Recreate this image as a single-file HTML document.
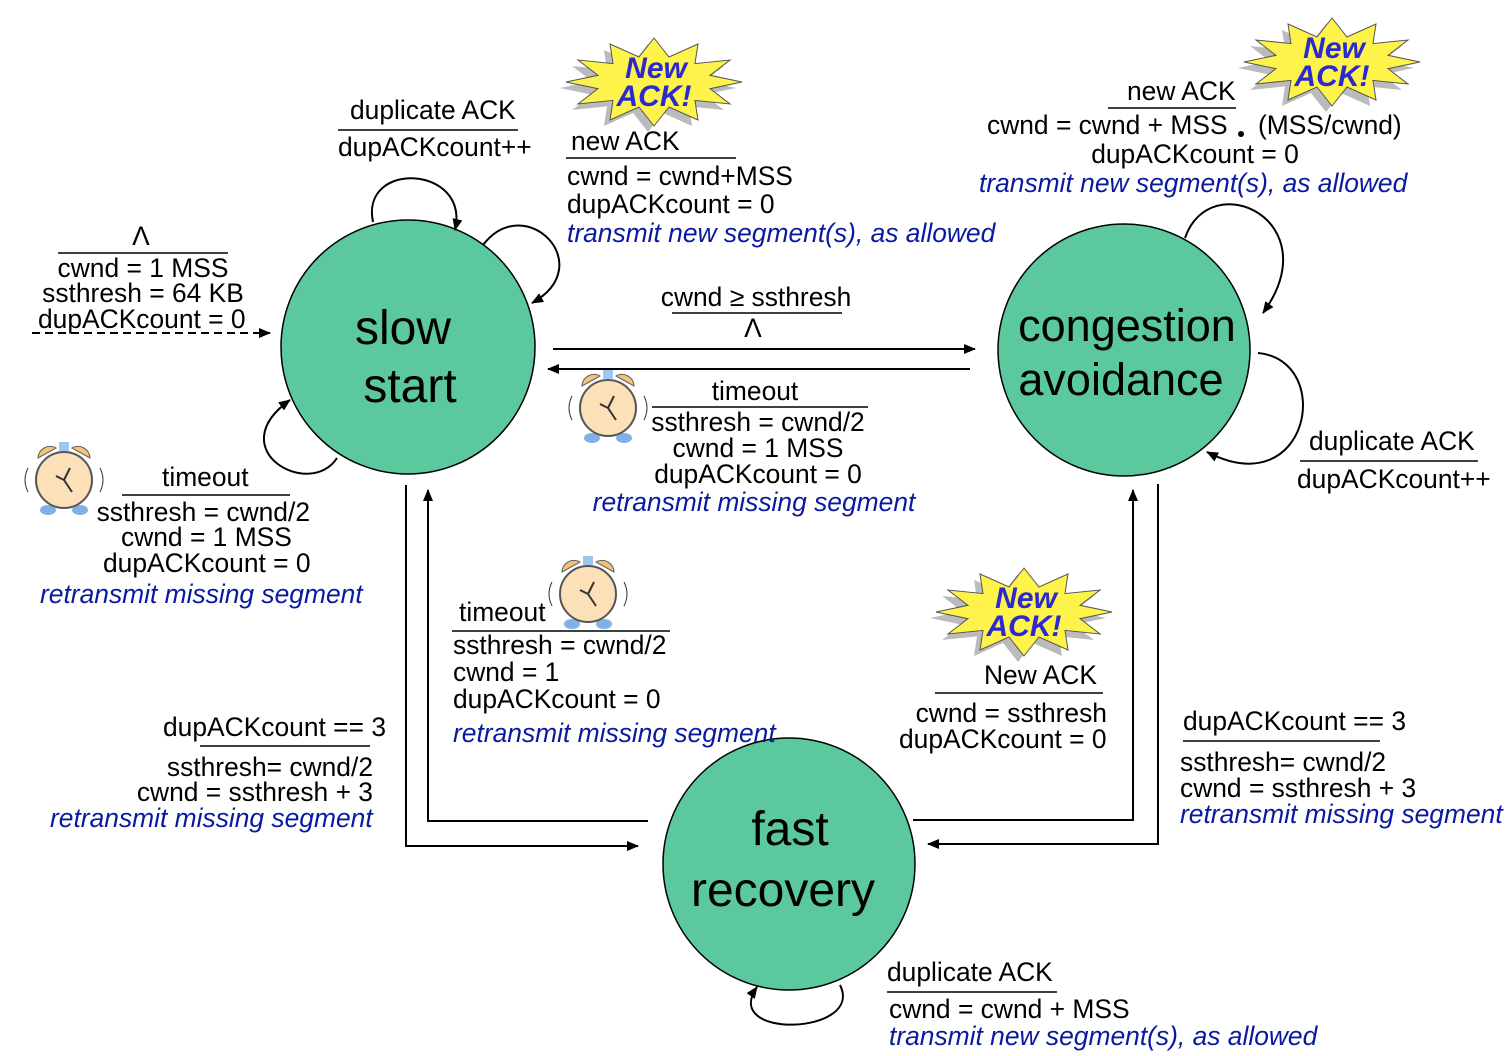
<!DOCTYPE html>
<html><head><style>
body{margin:0;background:#fff}
svg{display:block}
text{font-family:"Liberation Sans",sans-serif;font-size:26.4px;fill:#000}
.b{fill:#0a1aa0;font-style:italic}
.s{font-size:48px}
.n{font-weight:bold;font-style:italic;fill:#2a2ad0;font-size:30px}
</style></head><body>
<svg width="1508" height="1056" viewBox="0 0 1508 1056" xmlns="http://www.w3.org/2000/svg">
<defs>
<marker id="a" markerWidth="12" markerHeight="10" refX="11" refY="5" orient="auto" markerUnits="userSpaceOnUse"><path d="M0,0L12,5L0,10z" fill="#000"/></marker>
<polygon id="star" points="88,0 56,6.7 76,22 41,18.4 44,38 15,25 0,44 -15,25 -44,38 -41,18.4 -76,22 -56,6.7 -88,0 -56,-6.7 -76,-22 -41,-18.4 -44,-38 -15,-25 0,-44 15,-25 44,-38 41,-18.4 76,-22 56,-6.7"/>
<g id="clock">
<path d="M-26,-22 A12,12 0 0 1 -8,-32 Z" fill="#f3c27a" stroke="#555"/>
<path d="M26,-22 A12,12 0 0 0 8,-32 Z" fill="#f3c27a" stroke="#555"/>
<rect x="-5" y="-38" width="10" height="9" fill="#9cc8f0"/>
<ellipse cx="-16" cy="30" rx="8" ry="5" fill="#7fb0e8"/>
<ellipse cx="16" cy="30" rx="8" ry="5" fill="#7fb0e8"/>
<circle r="28" fill="#fbe0b8" stroke="#555" stroke-width="2"/>
<path d="M0,0 L6,-12 M0,0 L8,12 M-8,-4 L0,0" stroke="#333" stroke-width="2" fill="none"/>
<path d="M-36,-12 Q-42,0 -36,12 M36,-12 Q42,0 36,12" stroke="#333" fill="none"/>
</g>
</defs>

<circle cx="408" cy="347" r="127" fill="#5bc89e" stroke="#000" stroke-width="1.5"/>
<circle cx="1124" cy="350" r="126" fill="#5bc89e" stroke="#000" stroke-width="1.5"/>
<circle cx="789" cy="864" r="126" fill="#5bc89e" stroke="#000" stroke-width="1.5"/>
<text class="s" x="403" y="344" text-anchor="middle">slow</text>
<text class="s" x="410" y="402" text-anchor="middle">start</text>
<text x="1127" y="341" text-anchor="middle" style="font-size:45px">congestion</text>
<text x="1121" y="395" text-anchor="middle" style="font-size:45px">avoidance</text>
<text class="s" x="790" y="845" text-anchor="middle">fast</text>
<text class="s" x="783" y="906" text-anchor="middle">recovery</text>

<g stroke="#000" stroke-width="2" fill="none" marker-end="url(#a)">
<path d="M32,333H270" stroke-dasharray="8,5"/>
<path d="M553,349H975"/>
<path d="M970,369H548"/>
<path d="M406,485V846H638"/>
<path d="M648,821H428V490"/>
<path d="M1158,484V844H928"/>
<path d="M913,820H1133V490"/>
<path d="M373,222C360,160 470,165 455,230"/>
<path d="M483,245C525,190 600,265 532,303"/>
<path d="M337,458C310,500 220,450 290,400"/>
<path d="M1185,238C1210,165 1330,220 1263,313"/>
<path d="M1258,353C1335,360 1310,505 1207,452"/>
<path d="M840,985C865,1035 720,1040 757,987"/>
</g>
<g stroke="#000" stroke-width="1.5">
<line x1="338" y1="130" x2="518" y2="130"/>
<line x1="566" y1="158" x2="736" y2="158"/>
<line x1="58" y1="253" x2="228" y2="253"/>
<line x1="672" y1="313" x2="842" y2="313"/>
<line x1="652" y1="407" x2="868" y2="407"/>
<line x1="1108" y1="108" x2="1236" y2="108"/>
<line x1="1300" y1="461" x2="1478" y2="461"/>
<line x1="122" y1="495" x2="290" y2="495"/>
<line x1="452" y1="631" x2="670" y2="631"/>
<line x1="935" y1="693" x2="1103" y2="693"/>
<line x1="200" y1="746" x2="370" y2="746"/>
<line x1="1183" y1="741" x2="1380" y2="741"/>
<line x1="887" y1="992" x2="1057" y2="992"/>
</g>

<g transform="translate(654,82)"><use href="#star" x="-6" y="6" fill="#bbb"/><use href="#star" fill="#fef34a" stroke="#555"/><text class="n" x="2" y="-4" text-anchor="middle">New</text><text class="n" x="0" y="24" text-anchor="middle">ACK!</text></g>
<g transform="translate(1332,62)"><use href="#star" x="-6" y="6" fill="#bbb"/><use href="#star" fill="#fef34a" stroke="#555"/><text class="n" x="2" y="-4" text-anchor="middle">New</text><text class="n" x="0" y="24" text-anchor="middle">ACK!</text></g>
<g transform="translate(1024,612)"><use href="#star" x="-6" y="6" fill="#bbb"/><use href="#star" fill="#fef34a" stroke="#555"/><text class="n" x="2" y="-4" text-anchor="middle">New</text><text class="n" x="0" y="24" text-anchor="middle">ACK!</text></g>

<use href="#clock" transform="translate(608,408)"/>
<use href="#clock" transform="translate(64,480)"/>
<use href="#clock" transform="translate(588,594)"/>

<text x="350" y="119">duplicate ACK</text>
<text x="338" y="156">dupACKcount++</text>
<text x="571" y="150">new ACK</text>
<text x="567" y="185">cwnd = cwnd+MSS</text>
<text x="567" y="213">dupACKcount = 0</text>
<text class="b" x="567" y="242">transmit new segment(s), as allowed</text>
<text x="141" y="245" text-anchor="middle">Λ</text>
<text x="143" y="277" text-anchor="middle">cwnd = 1 MSS</text>
<text x="143" y="302" text-anchor="middle">ssthresh = 64 KB</text>
<text x="38" y="328">dupACKcount = 0</text>
<text x="756" y="306" text-anchor="middle">cwnd ≥ ssthresh</text>
<text x="753" y="337" text-anchor="middle">Λ</text>
<text x="755" y="400" text-anchor="middle">timeout</text>
<text x="758" y="431" text-anchor="middle">ssthresh = cwnd/2</text>
<text x="758" y="457" text-anchor="middle">cwnd = 1 MSS</text>
<text x="758" y="483" text-anchor="middle">dupACKcount = 0</text>
<text class="b" x="754" y="511" text-anchor="middle">retransmit missing segment</text>
<text x="1127" y="100">new ACK</text>
<text x="987" y="134">cwnd = cwnd + MSS</text>
<circle cx="1241" cy="134" r="3" fill="#000"/>
<text x="1258" y="134">(MSS/cwnd)</text>
<text x="1195" y="163" text-anchor="middle">dupACKcount = 0</text>
<text class="b" x="979" y="192">transmit new segment(s), as allowed</text>
<text x="1309" y="450">duplicate ACK</text>
<text x="1297" y="488">dupACKcount++</text>
<text x="162" y="486">timeout</text>
<text x="310" y="521" text-anchor="end">ssthresh = cwnd/2</text>
<text x="121" y="546">cwnd = 1 MSS</text>
<text x="103" y="572">dupACKcount = 0</text>
<text class="b" x="40" y="603">retransmit missing segment</text>
<text x="459" y="621">timeout</text>
<text x="453" y="654">ssthresh = cwnd/2</text>
<text x="453" y="681">cwnd = 1</text>
<text x="453" y="708">dupACKcount = 0</text>
<text class="b" x="453" y="742">retransmit missing segment</text>
<text x="984" y="684">New ACK</text>
<text x="1107" y="722" text-anchor="end">cwnd = ssthresh</text>
<text x="899" y="748">dupACKcount = 0</text>
<text x="163" y="736">dupACKcount == 3</text>
<text x="373" y="776" text-anchor="end">ssthresh= cwnd/2</text>
<text x="373" y="801" text-anchor="end">cwnd = ssthresh + 3</text>
<text class="b" x="50" y="827">retransmit missing segment</text>
<text x="1183" y="730">dupACKcount == 3</text>
<text x="1180" y="771">ssthresh= cwnd/2</text>
<text x="1180" y="797">cwnd = ssthresh + 3</text>
<text class="b" x="1180" y="823">retransmit missing segment</text>
<text x="887" y="981">duplicate ACK</text>
<text x="889" y="1018">cwnd = cwnd + MSS</text>
<text class="b" x="889" y="1045">transmit new segment(s), as allowed</text>
</svg>
</body></html>
